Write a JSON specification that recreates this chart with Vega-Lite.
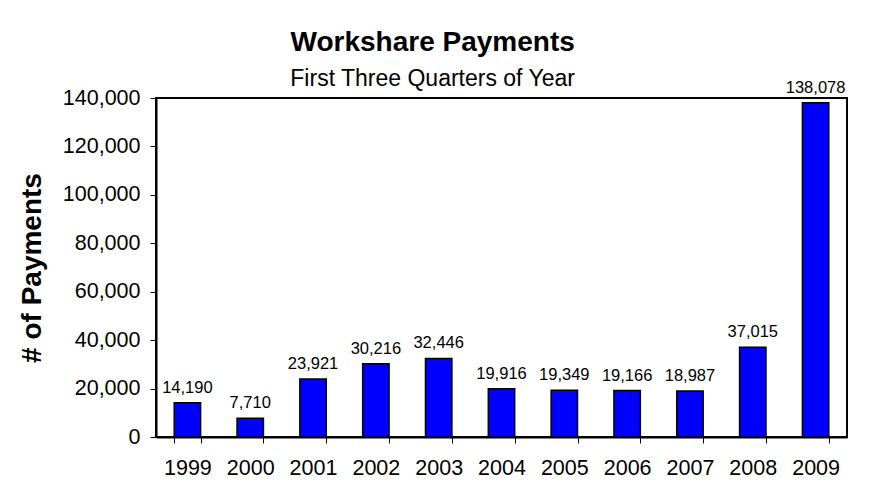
{
  "$schema": "https://vega.github.io/schema/vega-lite/v6.json",
  "width": 691,
  "height": 339,
  "autosize": "none",
  "padding": {"left": 156, "top": 98, "right": 23, "bottom": 50},
  "background": "white",
  "title": {
    "text": "Workshare Payments",
    "subtitle": "First Three Quarters of Year",
    "anchor": "middle",
    "frame": "bounds",
    "font": "Liberation Sans",
    "fontSize": 28,
    "fontWeight": "bold",
    "color": "#000",
    "subtitleFont": "Liberation Sans",
    "subtitleFontSize": 23,
    "subtitleColor": "#000",
    "subtitlePadding": 11,
    "offset": -11
  },
  "data": {
    "values": [
      {"year": "1999", "payments": 14190},
      {"year": "2000", "payments": 7710},
      {"year": "2001", "payments": 23921},
      {"year": "2002", "payments": 30216},
      {"year": "2003", "payments": 32446},
      {"year": "2004", "payments": 19916},
      {"year": "2005", "payments": 19349},
      {"year": "2006", "payments": 19166},
      {"year": "2007", "payments": 18987},
      {"year": "2008", "payments": 37015},
      {"year": "2009", "payments": 138078}
    ]
  },
  "encoding": {
    "x": {
      "field": "year",
      "type": "ordinal",
      "scale": {"paddingInner": 0.58, "paddingOuter": 0.29},
      "axis": {
        "title": null,
        "labelAngle": 0,
        "labelFont": "Liberation Sans",
        "labelFontSize": 21.5,
        "labelColor": "#000",
        "labelPadding": 14,
        "tickBand": "extent",
        "tickColor": "#000",
        "tickSize": 6,
        "domainColor": "#000",
        "domainWidth": 2
      }
    },
    "y": {
      "field": "payments",
      "type": "quantitative",
      "scale": {"domain": [0, 140000], "nice": false},
      "axis": {
        "title": "# of Payments",
        "titleFont": "Liberation Sans",
        "titleFontSize": 28,
        "titleFontWeight": "bold",
        "titleColor": "#000",
        "titlePadding": 16,
        "values": [0, 20000, 40000, 60000, 80000, 100000, 120000, 140000],
        "format": ",d",
        "grid": false,
        "labelFont": "Liberation Sans",
        "labelFontSize": 21.5,
        "labelColor": "#000",
        "labelPadding": 10,
        "tickColor": "#000",
        "tickSize": 6,
        "domainColor": "#000",
        "domainWidth": 2
      }
    }
  },
  "layer": [
    {
      "mark": {"type": "bar", "color": "#0000FF", "stroke": "#000", "strokeWidth": 1.5}
    },
    {
      "mark": {"type": "text", "baseline": "bottom", "dy": -7, "font": "Liberation Sans", "fontSize": 16.5, "color": "#000"},
      "encoding": {"text": {"field": "payments", "type": "quantitative", "format": ",d"}}
    }
  ],
  "config": {
    "view": {"stroke": "#000", "strokeWidth": 2}
  }
}
